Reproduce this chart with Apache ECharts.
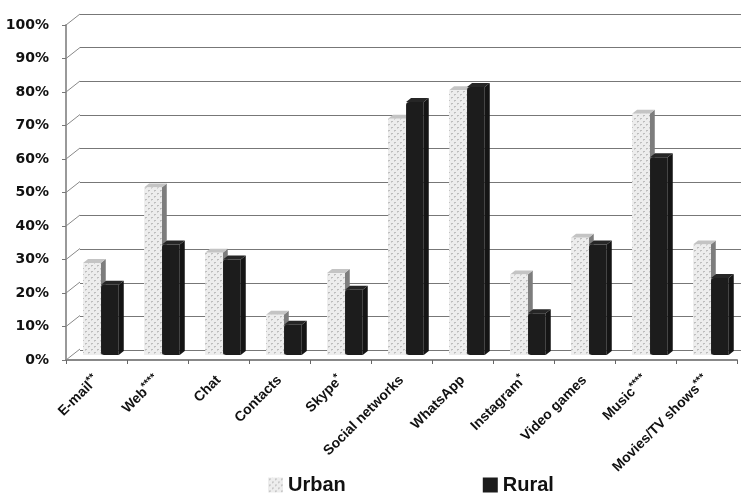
<!DOCTYPE html>
<html lang="en">
<head>
    <meta charset="UTF-8">
    <title>Urban vs Rural</title>
    <script src="https://cdn.jsdelivr.net/npm/echarts/dist/echarts.min.js"></script>
</head>
<body style="margin: 0; background: #fff">
    <div id="chart" style="width: 741px; height: 496px;"></div>
    <script>
        // data (percent)
        const categories = ['E-mail**', 'Web****', 'Chat', 'Contacts', 'Skype*', 'Social networks',
            'WhatsApp', 'Instagram*', 'Video games', 'Music****', 'Movies/TV shows***'];
        const urban = [27.5, 50, 30.5, 12, 24.5, 70.5, 79, 24, 35, 72, 33];
        const rural = [21, 33, 28.5, 9, 19.5, 75.5, 80, 12.5, 33, 59, 23];
        const yTicks = [0, 10, 20, 30, 40, 50, 60, 70, 80, 90, 100];

        // dotted fill for the urban bars
        const pc = document.createElement('canvas');
        pc.width = 6; pc.height = 6;
        const pctx = pc.getContext('2d');
        pctx.fillStyle = '#ededed';
        pctx.fillRect(0, 0, 6, 6);
        pctx.fillStyle = '#bdbdbd';
        pctx.fillRect(1, 1, 2, 1);
        pctx.fillRect(4, 4, 2, 1);
        pctx.fillStyle = '#d2d2d2';
        pctx.fillRect(1, 2, 1, 1);
        pctx.fillRect(4, 5, 1, 1);
        const dotted = { image: pc, repeat: 'repeat' };

        const DX = 5, DY = 4, LIFT = 5;

        function barRenderer(offset, front, side, top, radius) {
            return function (params, api) {
                const i = api.value(0);
                const c = api.coord([i, api.value(1)]);
                const b = api.coord([i, 0]);
                const cw = api.size([1, 0])[0];
                const l = c[0] + offset * cw;
                const r = l + cw * 0.29;
                const yt = c[1] - LIFT;
                const yb = b[1] - LIFT;
                return {
                    type: 'group',
                    children: [
                        { type: 'polygon', shape: { points: [[r, yt], [r + DX, yt - DY], [r + DX, yb - DY], [r, yb]] }, style: { fill: side } },
                        { type: 'polygon', shape: { points: [[l, yt], [l + DX, yt - DY], [r + DX, yt - DY], [r, yt]] }, style: { fill: top } },
                        { type: 'rect', shape: { x: l, y: yt, width: r - l, height: yb - yt, r: radius }, style: { fill: front } }
                    ]
                };
            };
        }

        const myChart = echarts.init(document.getElementById('chart'));

        const option = {
            animation: false,
            grid: [
                { left: 66, right: 4, top: 25, bottom: 136 },
                { left: 80, right: 0, top: 14, bottom: 146 }
            ],
            legend: {
                left: 263,
                top: 470,
                itemGap: 137,
                itemWidth: 15,
                itemHeight: 15,
                itemTextGap: 6,
                icon: 'rect',
                data: ['Urban', 'Rural'],
                textStyle: { fontFamily: 'Liberation Sans', fontWeight: 'bold', fontSize: 20, color: '#111' }
            },
            xAxis: [
                {
                    type: 'category',
                    gridIndex: 0,
                    data: categories,
                    axisLine: { lineStyle: { color: '#888', width: 2 } },
                    axisTick: { show: true, length: 4, lineStyle: { color: '#666' } },
                    axisLabel: {
                        interval: 0,
                        rotate: 45,
                        margin: 18,
                        color: '#111',
                        fontFamily: 'Liberation Sans',
                        fontWeight: 'bold',
                        fontSize: 14,
                        formatter: function (v) {
                            const m = v.match(/^(.*?)(\*+)$/);
                            return m ? m[1] + '{s|' + m[2] + '}' : v;
                        },
                        rich: {
                            s: { fontFamily: 'Liberation Sans', fontWeight: 'bold', fontSize: 11, color: '#111', verticalAlign: 'top', padding: [0, 0, 7, 0] }
                        }
                    }
                },
                { type: 'category', gridIndex: 1, data: categories, show: false }
            ],
            yAxis: [
                {
                    type: 'value',
                    gridIndex: 0,
                    min: 0,
                    max: 100,
                    interval: 10,
                    splitLine: { show: false },
                    axisLine: { show: true, lineStyle: { color: '#999', width: 2 } },
                    axisTick: { show: true, length: 4, lineStyle: { color: '#777' } },
                    axisLabel: {
                        formatter: '{value}%',
                        color: '#111',
                        fontFamily: 'DejaVu Sans',
                        fontWeight: 'bold',
                        fontSize: 14,
                        margin: 17
                    }
                },
                {
                    type: 'value',
                    gridIndex: 1,
                    min: 0,
                    max: 100,
                    interval: 10,
                    axisLabel: { show: false },
                    axisLine: { show: false },
                    axisTick: { show: false },
                    splitLine: { lineStyle: { color: '#777', width: 1.2 } }
                }
            ],
            series: [
                {
                    // diagonal joins between the front axis and the back wall
                    type: 'custom',
                    xAxisIndex: 0,
                    yAxisIndex: 0,
                    silent: true,
                    data: yTicks.map(function (t) { return [0, t]; }),
                    renderItem: function (params, api) {
                        const x0 = params.coordSys.x;
                        const y = api.coord([0, api.value(1)])[1];
                        return {
                            type: 'line',
                            shape: { x1: x0, y1: y, x2: x0 + 14, y2: y - 11 },
                            style: { stroke: '#888', lineWidth: 1 }
                        };
                    },
                    z: 1
                },
                {
                    name: 'Urban',
                    type: 'custom',
                    xAxisIndex: 0,
                    yAxisIndex: 0,
                    itemStyle: { color: dotted },
                    data: urban.map(function (v, i) { return [i, v]; }),
                    renderItem: barRenderer(-0.22, dotted, '#7d7d7d', '#c4c4c4', 0),
                    z: 3
                },
                {
                    name: 'Rural',
                    type: 'custom',
                    xAxisIndex: 0,
                    yAxisIndex: 0,
                    itemStyle: { color: '#1c1c1c' },
                    data: rural.map(function (v, i) { return [i, v]; }),
                    renderItem: barRenderer(0.075, '#1c1c1c', '#151515', '#262626', [3, 0, 0, 3]),
                    z: 4
                }
            ]
        };

        myChart.setOption(option);
    </script>
</body>
</html>
